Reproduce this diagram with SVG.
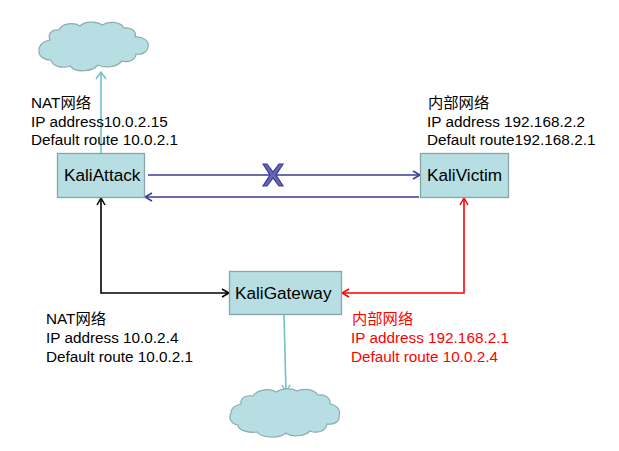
<svg xmlns="http://www.w3.org/2000/svg" width="619" height="451" viewBox="0 0 619 451">
<style>
text{font-family:"Liberation Sans","Noto Sans CJK SC",sans-serif;font-size:15.3px;fill:#000}
.red{fill:#f00}
.box{fill:#b7dee2;stroke:#87a5a8;stroke-width:1.3}
.cloud{fill:#b7dee2;stroke:#8fabae;stroke-width:1.2}
.lbl{font-size:17.2px}
.c{fill:none;stroke-width:1.6}
.teal{stroke:#72c2c8}.blue{stroke:#3a3a96}.blk{stroke:#000}.rd{stroke:#f00}
.head{fill:none;stroke-width:1.5}
</style>
<rect width="619" height="451" fill="#fff"/>
<g id="connectors">
<path class="c teal" d="M101 153V73"/><path class="head teal" d="M96 79L101 72L106 79"/>
<path class="c blue" d="M148 175H420"/><path class="head blue" d="M413 171L420 175L413 179"/>
<path class="c blue" d="M419 197H145"/><path class="head blue" d="M152 193L145 197L152 201"/>
<path class="c blk" d="M101 198V293H229"/><path class="head blk" d="M97 205L101 198L105 205M222 289L229 293L222 297"/>
<path class="c rd" d="M342 293H464V198"/><path class="head rd" d="M349 289L342 293L349 297M460 205L464 198L468 205"/>
<path class="c teal" d="M284 315L286 392"/><path class="head teal" d="M282 385L286 392L290 385"/>
<path d="M263 164L270 175L263 186H267L273 178L279 186H283L276 175L283 164H279L273 172L267 164Z" fill="#6666b8" stroke="#3a3a96" stroke-width="1.2"/>
</g>
<g id="cloud-top">
<path class="cloud" d="M50 40C47 33 53 29 59 30C62 23 74 22 80 26C85 21 97 21 102 25C108 21 120 21 124 28C132 27 137 32 135 37C142 36 150 41 148 47C147 53 141 55 136 54C136 60 128 63 122 61C116 68 104 68 98 65C92 72 76 73 70 66C62 69 52 66 51 60C44 60 38 56 39 50C39 45 44 41 50 40Z"/>
</g>
<g id="cloud-bottom">
<path class="cloud" d="M241 404C240 397 247 395 253 396C258 389 270 388 276 392C282 388 292 388 297 391C303 388 314 389 318 395C325 394 331 398 330 404C337 405 341 410 339 416C340 422 333 425 327 424C326 431 317 434 310 431C304 437 291 437 286 433C279 439 261 438 257 432C250 433 238 431 238 425C231 424 228 418 231 413C231 408 236 405 241 404Z"/>
</g>
<g id="KaliAttack"><rect class="box" x="57.5" y="153.5" width="87" height="44"/><text class="lbl" x="64" y="181">KaliAttack</text></g>
<g id="KaliVictim"><rect class="box" x="420.5" y="153.5" width="88" height="44"/><text class="lbl" x="427" y="181">KaliVictim</text></g>
<g id="KaliGateway"><rect class="box" x="229.5" y="271.5" width="112" height="43"/><text class="lbl" x="235" y="299">KaliGateway</text></g>
<g id="label-attack"><text x="31" y="108">NAT网络</text><text x="31" y="127">IP address10.0.2.15</text><text x="31" y="145">Default route 10.0.2.1</text></g>
<g id="label-victim"><text x="428" y="108">内部网络</text><text x="427" y="127">IP address 192.168.2.2</text><text x="427" y="145">Default route192.168.2.1</text></g>
<g id="label-gw-nat"><text x="46" y="324">NAT网络</text><text x="46" y="343">IP address 10.0.2.4</text><text x="46" y="362">Default route 10.0.2.1</text></g>
<g id="label-gw-int"><text class="red" x="352" y="324">内部网络</text><text class="red" x="351" y="343">IP address 192.168.2.1</text><text class="red" x="351" y="362">Default route 10.0.2.4</text></g>
</svg>
